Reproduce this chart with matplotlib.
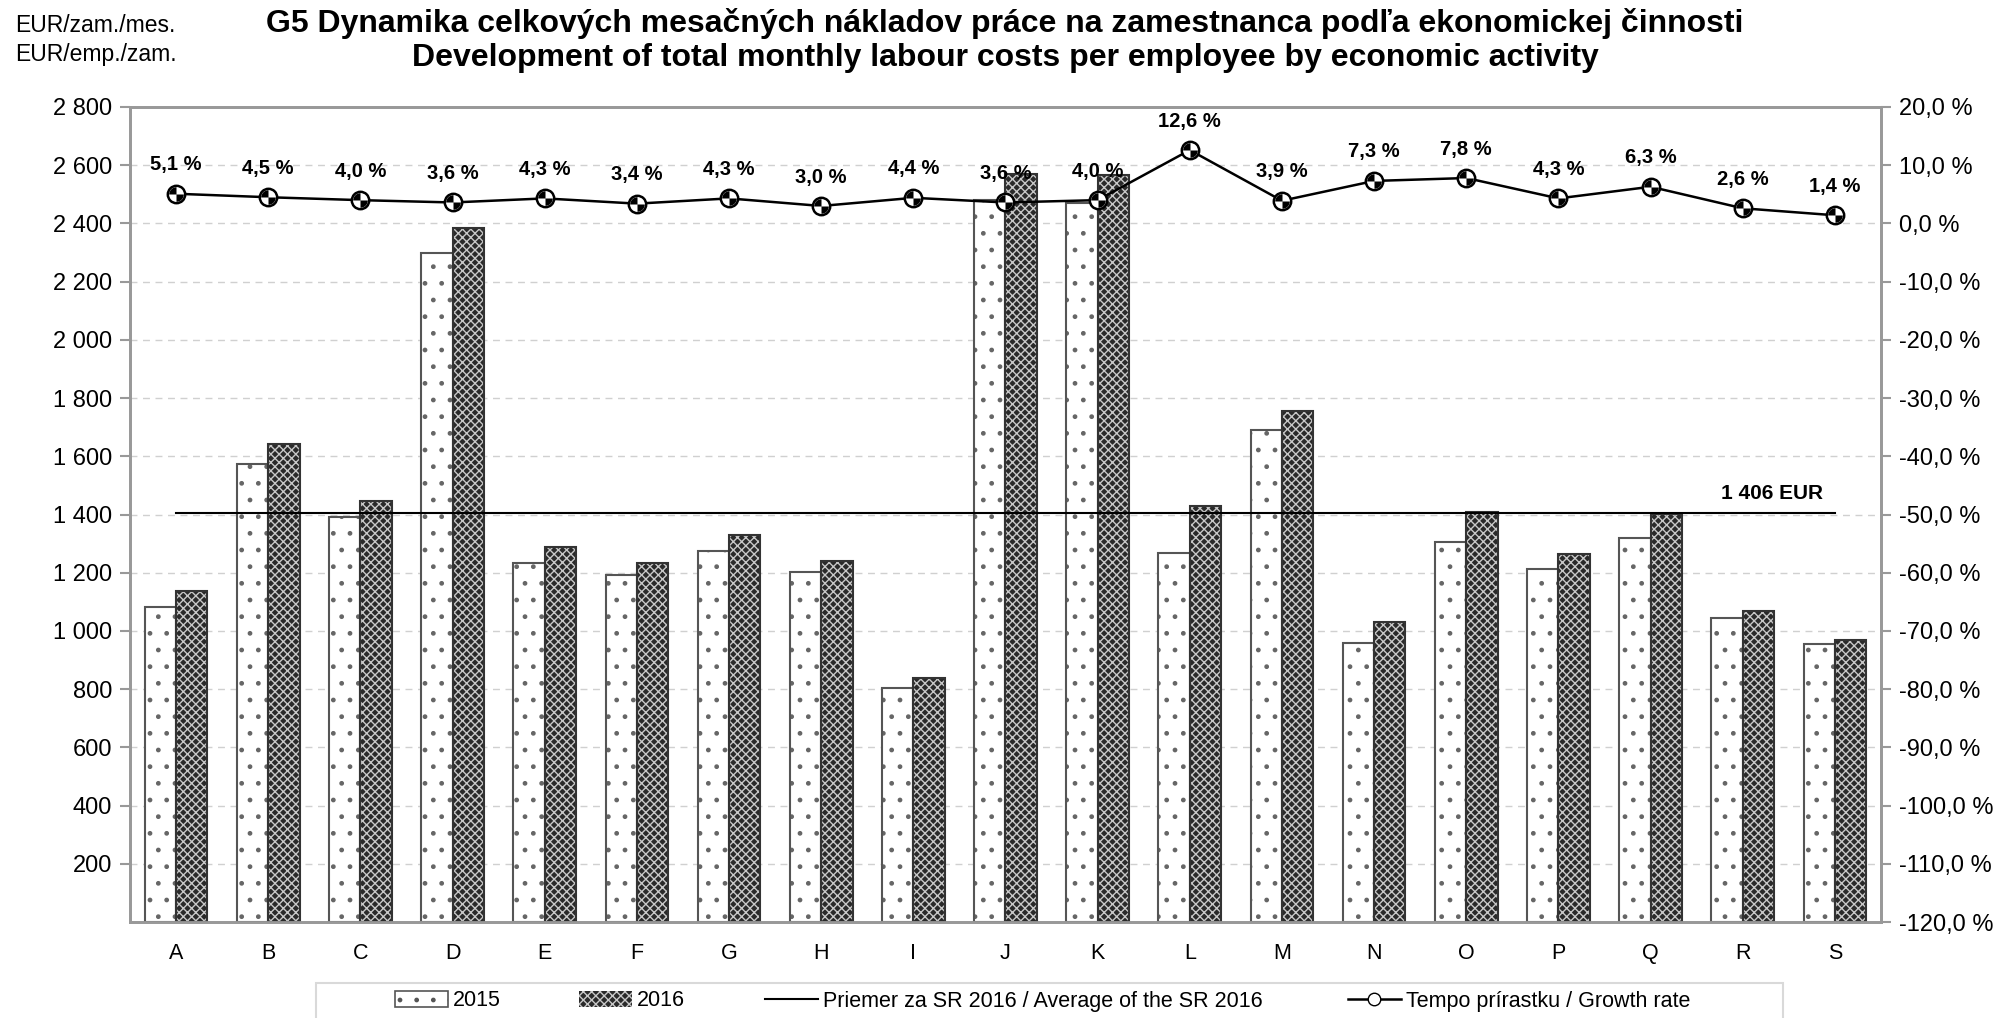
import numpy as np
import matplotlib.pyplot as plt
from matplotlib.path import Path
from matplotlib.patches import Rectangle, Patch
from matplotlib.lines import Line2D

plt.rcParams['font.family'] = ['Liberation Sans', 'DejaVu Sans']
plt.rcParams['hatch.linewidth'] = 1.0

# data
kategorie = ['A', 'B', 'C', 'D', 'E', 'F', 'G', 'H', 'I', 'J',
             'K', 'L', 'M', 'N', 'O', 'P', 'Q', 'R', 'S']
naklady_2015 = [1083, 1572, 1392, 2300, 1235, 1192, 1274, 1203, 804, 2480,
                2470, 1268, 1690, 960, 1306, 1213, 1320, 1043, 955]
naklady_2016 = [1138, 1643, 1448, 2383, 1288, 1232, 1329, 1239, 839, 2569,
                2568, 1428, 1756, 1030, 1408, 1265, 1403, 1070, 968]
tempo = [5.1, 4.5, 4.0, 3.6, 4.3, 3.4, 4.3, 3.0, 4.4, 3.6,
         4.0, 12.6, 3.9, 7.3, 7.8, 4.3, 6.3, 2.6, 1.4]
priemer_sr = 1406

fig = plt.figure(figsize=(20.04, 10.18), dpi=100)
ax = fig.add_axes([130/2004, 1-922/1018, (1881-130)/2004, (922-107)/1018])
x = np.arange(len(kategorie))
w = 0.34

# 2015 - svetle stlpce
ax.bar(x - w/2, naklady_2015, w, color='white', edgecolor='#666666', hatch='.', lw=0, zorder=2)
ax.bar(x - w/2, naklady_2015, w, color='none', edgecolor='#555555', lw=1.5, zorder=3)
# 2016 - tmave stlpce
ax.bar(x + w/2, naklady_2016, w, color='#2a2a2a', edgecolor='#c8c8c8', hatch='xxxx', lw=0, zorder=2)
ax.bar(x + w/2, naklady_2016, w, color='none', edgecolor='#333333', lw=1.5, zorder=3)

# priemer
ax.plot(x, [priemer_sr]*len(x), color='black', lw=1.5, zorder=4)
ax.text(x[-1] - 0.13, priemer_sr + 35, '1 406 EUR', ha='right', va='bottom',
        fontsize=15, fontweight='bold')

ax.set_xlim(-0.5, len(x) - 0.5)
ax.set_ylim(0, 2800)
ax.set_yticks(range(200, 2801, 200))
ax.set_yticklabels(['{:,}'.format(v).replace(',', ' ') for v in range(200, 2801, 200)])
ax.set_xticks(x)
ax.set_xticklabels(kategorie)
ax.tick_params(axis='x', length=0, pad=15, labelsize=15.5)
ax.tick_params(axis='y', length=7, width=1.5, color='#999999', pad=6, labelsize=17)
ax.grid(axis='y', color='#d0d0d0', ls=(0, (5, 4)), lw=1)
ax.set_axisbelow(True)
for s in ax.spines.values():
    s.set_color('#999999')
    s.set_linewidth(2)

# tempo prirastku
ax2 = ax.twinx()
ax2.set_ylim(-120, 20)
ax2.set_yticks(range(-120, 21, 10))
ax2.set_yticklabels(['{:.1f} %'.format(v).replace('.', ',') for v in range(-120, 21, 10)])
ax2.tick_params(axis='y', length=7, width=1.5, color='#999999', pad=6, labelsize=17)
for s in ax2.spines.values():
    s.set_color('#999999')
    s.set_linewidth(2)

stvrtiny = Path.make_compound_path(Path.wedge(90, 180), Path.wedge(270, 360))
ax2.plot(x, tempo, color='black', lw=1.8, marker='o', ms=12.5, mfc='white',
         mec='black', mew=1.8, zorder=5)
ax2.plot(x, tempo, ls='none', marker=stvrtiny, ms=10.5, mfc='black', mec='none', zorder=6)
for xi, t in zip(x, tempo):
    ax2.annotate('{:.1f} %'.format(t).replace('.', ','), (xi, t), xytext=(0, 14),
                 textcoords='offset points', ha='center', va='bottom',
                 fontsize=14.5, fontweight='bold')

# nadpisy
fig.text(1005/2004, 1-23/1018, 'G5 Dynamika celkových mesačných nákladov práce na zamestnanca podľa ekonomickej činnosti',
         ha='center', va='center', fontsize=23, fontweight='bold')
fig.text(1005/2004, 1-58/1018, 'Development of total monthly labour costs per employee by economic activity',
         ha='center', va='center', fontsize=23, fontweight='bold')
fig.text(15/2004, 1-26/1018, 'EUR/zam./mes.', ha='left', va='center', fontsize=16.5)
fig.text(15/2004, 1-55/1018, 'EUR/emp./zam.', ha='left', va='center', fontsize=16.5)

# legenda
fig.patches.append(Rectangle((316/2004, -0.05), (1783-316)/2004, 0.05 + 1-983/1018,
                             transform=fig.transFigure, fc='white', ec='#d9d9d9', lw=1.5))
handles = [Patch(fc='white', ec='#555555', hatch='.', lw=1.2),
           Patch(fc='#2a2a2a', ec='#c8c8c8', hatch='xxxx', lw=0),
           Line2D([], [], color='black', lw=1.5),
           Line2D([], [], color='black', lw=1.8, marker='o', ms=9, mfc='white', mec='black')]
labels = ['2015', '2016', 'Priemer za SR 2016 / Average of the SR 2016', 'Tempo prírastku / Growth rate']
leg_x = [395, 579, 765, 1348]
for h, l, lx in zip(handles, labels, leg_x):
    fig.legend([h], [l], loc='center left', bbox_to_anchor=(lx/2004, 1-1001/1018),
               frameon=False, fontsize=15.5, handlelength=2.45, handletextpad=0.25,
               borderpad=0, borderaxespad=0)

fig.savefig('out.png', dpi=100)
